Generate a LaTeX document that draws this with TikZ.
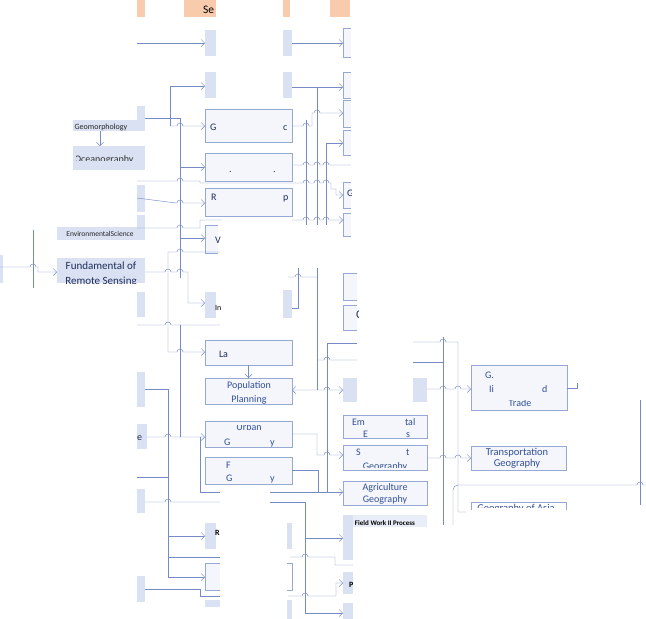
\documentclass[tikz,border=0pt]{standalone}
\usepackage{fontspec}
\setmainfont{Carlito}
\usetikzlibrary{positioning,arrows.meta,fit}

\definecolor{boxblue}{RGB}{218,225,243}
\definecolor{boxlight}{RGB}{244,246,252}
\definecolor{boxline}{RGB}{150,168,212}
\definecolor{linkc}{RGB}{118,138,196}
\definecolor{hdr}{RGB}{248,203,173}
\definecolor{txtblue}{RGB}{50,80,150}
\definecolor{txtnavy}{RGB}{30,45,90}

% line hop over a crossing vertical line
\newcommand{\hop}[2]{-- (#1-3,#2) arc[start angle=180,end angle=360,radius=3]}

\begin{document}
\begin{tikzpicture}[
x=1pt, y=-1pt,
>={Straight Barb[length=3.5pt,width=7pt]},
every node/.style={inner sep=0pt, outer sep=0pt},
fillbox/.style={fill=boxblue, draw=none},
outbox/.style={fill=boxlight, draw=boxline, line width=0.5pt},
link/.style={draw=linkc, line width=0.45pt},
arr/.style={link, ->},
lbl/.style={text=txtblue, font=\fontsize{10}{11}\selectfont, anchor=base},
dark/.style={text=txtnavy, font=\fontsize{10}{11}\selectfont, anchor=base west},
tinylbl/.style={text=black!85, font=\fontsize{7.5}{8}\selectfont, anchor=base}
]

\useasboundingbox (0,0) rectangle (646,619);

% Header
\fill[hdr] (137,0) rectangle (145,17);
\fill[hdr] (184,0) rectangle (216,17);
\fill[hdr] (283,0) rectangle (290,17);
\fill[hdr] (330,0) rectangle (350,17);
\begin{scope}
\clip (184,0) rectangle (216,17);
\node[font=\fontsize{11.5}{12}\selectfont, anchor=base west] (sem) at (203,13) {Se};
\end{scope}

% Column A
\node[fillbox, fit={(137,106) (145,131)}] (geo1) {};
\node[fillbox, fit={(73,120) (145,131)}] (geomorph) {};
\node[fillbox, fit={(73,146) (145,170)}] (ocean) {};
\node[fillbox, fit={(137,185) (145,212)}] (a3) {};
\node[fillbox, fit={(137,215) (145,240)}] (env1) {};
\node[fillbox, fit={(57,227) (145,240)}] (envsci) {};
\node[fillbox, fit={(57,258) (145,283)}] (remsens) {};
\node[fillbox, fit={(0,255) (3,283)}] (a0) {};
\node[fillbox, fit={(137,292) (145,317)}] (a6) {};
\node[fillbox, fit={(137,372) (145,407)}] (a7) {};
\node[fillbox, fit={(137,424) (147,449)}] (a8) {};
\node[fillbox, fit={(137,489) (145,513)}] (a9) {};
\node[fillbox, fit={(137,576) (145,602)}] (a10) {};

% Column B
\node[fillbox, fit={(205,30) (216,56)}] (b1l) {};
\node[fillbox, fit={(283,30) (292,56)}] (b1r) {};
\node[fillbox, fit={(205,72) (216,98)}] (b2l) {};
\node[fillbox, fit={(283,72) (292,98)}] (b2r) {};
\node[outbox, fit={(205,109) (292,142)}] (b3) {};
\node[outbox, fit={(205,153) (292,181)}] (b4) {};
\node[outbox, fit={(205,188) (292,216)}] (b5) {};
\draw[boxline, fill=boxlight, line width=0.5pt] (218,225) -- (205,225) -- (205,253) -- (218,253);
\node[fillbox, fit={(205,292) (216,318)}] (b7l) {};
\node[fillbox, fit={(283,290) (292,318)}] (b7r) {};
\node[outbox, fit={(205,340) (292,365)}] (landuse) {};
\node[outbox, fit={(205,378) (292,404)}] (popplan) {};
\node[outbox, fit={(205,421) (292,447)}] (urban) {};
\node[outbox, fit={(205,457) (292,484)}] (b11) {};
\node[fillbox, fit={(205,523) (216,549)}] (b12l) {};
\node[fillbox, fit={(287,523) (292,549)}] (b12r) {};
\draw[boxline, fill=boxlight, line width=0.5pt] (220,563) -- (205,563) -- (205,590) -- (220,590);
\draw[boxline, line width=0.5pt] (287,563) -- (292,563) -- (292,590) -- (287,590);
\node[fillbox, fit={(205,600) (220,607)}] (b14l) {};
\node[fillbox, fit={(287,600) (292,619)}] (b14r) {};

% Column C
\foreach \ya/\yb in {28/57, 72/98, 100/127, 130/155, 182/208, 213/236}
  \draw[boxline, fill=boxlight, line width=0.5pt] (351,\ya) -- (343,\ya) -- (343,\yb) -- (351,\yb);
\foreach \ya/\yb in {273/300, 305/330}
  \draw[boxline, fill=boxlight, line width=0.5pt] (357,\ya) -- (343,\ya) -- (343,\yb) -- (357,\yb);
\node[fillbox, fit={(343,378) (357,402)}] (c9l) {};
\node[fillbox, fit={(413,378) (427,402)}] (c9r) {};
\node[outbox, fit={(343,415) (427,438)}] (envec) {};
\node[outbox, fit={(343,445) (427,470)}] (settle) {};
\node[outbox, fit={(343,481) (427,505)}] (agri) {};
\fill[boxblue!60] (343,515) rectangle (427,527);
\node[fillbox, fit={(343,515) (353,560)}] (field) {};
\node[fillbox, fit={(343,572) (353,594)}] (c14) {};
\node[fillbox, fit={(343,603) (353,619)}] (c15) {};

% Column D
\node[outbox, fit={(471,365) (567,410)}] (trade) {};
\node[outbox, fit={(471,446) (566,470)}] (transp) {};
\draw[boxline, line width=0.5pt] (471,510) -- (471,502) -- (566,502) -- (566,510);

% Arrows, column A to B
\draw[arr] (0,267) \hop{33}{267} -- (38,267) -- (38,272) -- (remsens.west |- 0,272);
\draw[link] (33,230) -- (33,288);
\draw[arr] (100,131) -- (100,146);
\draw[arr] (137,43) -- (b1l.west);
\draw[arr] (170,126) -- (170,86) -- (205,86);
\draw[arr] (170,126) \hop{180}{126} -- (205,126);
\draw[link] (145,118) -- (180,118) -- (180,278);
\draw[arr] (180,167) -- (205,167);
\draw[arr] (180,238) -- (205,238);
\draw[arr] (137,181) \hop{180}{181} -- (200,181) -- (200,183) -- (292,183)
  \hop{306}{183} \hop{317}{183} \hop{326}{183} -- (331,183) -- (331,189) -- (336,189) -- (336,195) -- (343,195);
\draw[arr] (137,198) -- (176,203) \hop{180}{203} -- (205,203);
\draw[link] (137,228) \hop{180}{228} -- (200,228) -- (200,220) -- (222,220);
\draw[link] (168,352) -- (168,252) \hop{180}{252} -- (220,252);
\draw[arr] (168,352) \hop{180}{352} -- (205,352);
\draw[arr] (145,272) \hop{168}{272} \hop{180}{272} -- (188,272) -- (188,303) -- (205,303);
\draw[link] (137,325) \hop{168}{325} -- (220,325);
\draw[link] (180,325) -- (180,437);
\draw[arr] (147,437) \hop{168}{437} -- (205,437);
\draw[link] (145,389) -- (168,389) -- (168,577);
\draw[arr] (168,536) -- (205,536);
\draw[arr] (168,577) -- (205,577);
\draw[link] (168,557) -- (220,557);
\draw[link] (137,477) -- (168,477);
\draw[link] (145,502) \hop{168}{502} -- (220,502);
\draw[link] (145,589) -- (200,589) -- (200,596) -- (220,596);
\draw[link] (200,437) -- (200,492) -- (220,492);
\draw[arr] (landuse.south) -- (popplan.north);

% Arrows, column B to C
\draw[arr] (b1r.east |- 0,43) -- (343,43);
\draw[arr] (b2r.east |- 0,87) -- (343,87);
\draw[link] (317,87) -- (317,225);
\draw[link] (306,120) -- (306,225);
\draw[link] (326,143) -- (326,225);
\draw[arr] (292,126) \hop{306}{126} -- (312,126) -- (312,113) \hop{317}{113} -- (343,113);
\draw[arr] (326,143) -- (343,143);
\draw[link] (292,165) \hop{306}{165} \hop{317}{165} \hop{326}{165} -- (351,165);
\draw[arr] (292,220) \hop{306}{220} \hop{317}{220} \hop{326}{220} -- (343,220);
\draw[link] (292,308) -- (298,308) -- (298,268);
\draw[link] (288,277) \hop{298}{277} -- (317,277);
\draw[link] (317,268) -- (317,390);
\draw[link, <->] (popplan.east |- 0,390) \hop{327}{390} -- (c9l.west |- 0,390);
\draw[link] (327,343) -- (327,492);
\draw[link] (327,343) -- (357,343);
\draw[link] (317,360) \hop{327}{360} -- (357,360);
\draw[arr] (urban.east) -- (317,434) -- (317,455) \hop{327}{455} -- (settle.west |- 0,455);
\draw[link] (b11.east) -- (318,470.5) -- (318,492);
\draw[arr] (270,492) -- (agri.west |- 0,492);
\draw[link] (270,502) -- (305,502) -- (305,613);
\draw[arr] (305,538) -- (field.west |- 0,538);
\draw[arr] (305,613) -- (343,613);
\draw[link] (290,557) \hop{305}{557} -- (335,557) -- (335,565) -- (353,565);
\draw[arr] (288,596) \hop{305}{596} -- (336,596) -- (336,583) -- (c14.west |- 0,583);

% Arrows, column C to D
\draw[link] (413,342) \hop{443}{342} -- (458,342) -- (458,512) -- (466,512);
\draw[link] (413,362) -- (443,362);
\draw[link] (443,337) -- (443,525);
\draw[arr] (c9r.east |- 0,389) \hop{443}{389} \hop{458}{389} -- (trade.west |- 0,389);
\draw[arr] (settle.east |- 0,458) \hop{443}{458} \hop{458}{458} -- (transp.west |- 0,458);
\draw[link] (453,525) -- (453,490) arc[start angle=180,end angle=270,radius=5] \hop{640}{485} -- (646,485);
\draw[link] (640,400) -- (640,505);
\draw[link] (trade.east |- 0,388) -- (577,388) -- (577,383);

% Texts, column A
\begin{scope}
\clip (73,122) rectangle (145,131);
\node[tinylbl, font=\fontsize{8}{9}\selectfont] at (101,129) {Geomorphology};
\end{scope}
\begin{scope}
\clip (76,146) rectangle (145,160);
\node[lbl, text=black!80] at (104,162.5) {Oceanography};
\end{scope}
\begin{scope}
\clip (57,229) rectangle (145,240);
\node[tinylbl] at (100,236) {EnvironmentalScience};
\end{scope}
\node[dark, font=\fontsize{11}{12}\selectfont, anchor=base] at (101,269) {Fundamental of};
\begin{scope}
\clip (57,258) rectangle (145,283);
\node[dark, font=\fontsize{11}{12}\selectfont, anchor=base] at (101,284.5) {Remote Sensing};
\end{scope}
\node[dark] at (137,440) {e};

% Texts, column B
\node[dark] at (210,130) {G};
\node[dark] at (283,130) {c};
\node[dark] at (229,172) {.};
\node[dark] at (273,172) {.};
\node[dark] at (211,200) {R};
\node[dark] at (283,200) {p};
\node[dark] at (215,243) {V};
\node[dark, text=black, font=\fontsize{8}{9}\selectfont] at (215,310) {In};
\node[dark] at (219,357) {La};
\node[lbl] at (249,388) {Population};
\node[lbl] at (249,402) {Planning};
\begin{scope}
\clip (205,425) rectangle (292,447);
\node[lbl] at (249,430) {Urban};
\end{scope}
\node[lbl, anchor=base west] at (224,445) {G};
\node[lbl, anchor=base west] at (270,445) {y};
\node[lbl, anchor=base west] at (226,468) {F};
\node[lbl, anchor=base west] at (226,481) {G};
\node[lbl, anchor=base west] at (270,481) {y};
\node[dark, text=black, font=\bfseries\fontsize{8}{9}\selectfont] at (215,535) {R};

% Texts, column C
\begin{scope}
\clip (343,182) rectangle (351,208);
\node[dark] at (347,196) {G};
\end{scope}
\begin{scope}
\clip (343,305) rectangle (358.5,330);
\node[dark, font=\fontsize{12}{13}\selectfont] at (356,318) {C};
\end{scope}
\node[lbl, anchor=base west] at (352,425) {Em};
\node[lbl, anchor=base west] at (405,425) {tal};
\node[lbl, anchor=base west] at (363,437) {E};
\node[lbl, anchor=base west] at (406,437) {s};
\node[lbl, anchor=base west] at (356,455) {S};
\node[lbl, anchor=base west] at (406,455) {t};
\begin{scope}
\clip (343,445) rectangle (427,467);
\node[lbl] at (385,469) {Geography};
\end{scope}
\node[lbl] at (385,490) {Agriculture};
\node[lbl] at (385,502) {Geography};
\node[text=black, font=\bfseries\fontsize{7}{8}\selectfont, anchor=base] at (385,525) {Field Work II Process};
\node[text=black, font=\bfseries\fontsize{8}{9}\selectfont, anchor=base west] at (349,587) {P};

% Texts, column D
\node[lbl, anchor=base west] at (485,378) {G.};
\node[lbl, anchor=base west] at (489,392) {Ii};
\node[lbl, anchor=base west] at (542,392) {d};
\begin{scope}
\clip (471,400) rectangle (567,410);
\node[lbl] at (520,406) {Trade};
\end{scope}
\node[lbl, font=\fontsize{10.5}{11}\selectfont] at (517,455) {Transportation};
\node[lbl, font=\fontsize{10.5}{11}\selectfont] at (517,466) {Geography};
\begin{scope}
\clip (471,502) rectangle (566,507.5);
\node[lbl, font=\fontsize{10.5}{11}\selectfont] at (516,511) {Geography of Asia};
\end{scope}

\end{tikzpicture}
\end{document}
